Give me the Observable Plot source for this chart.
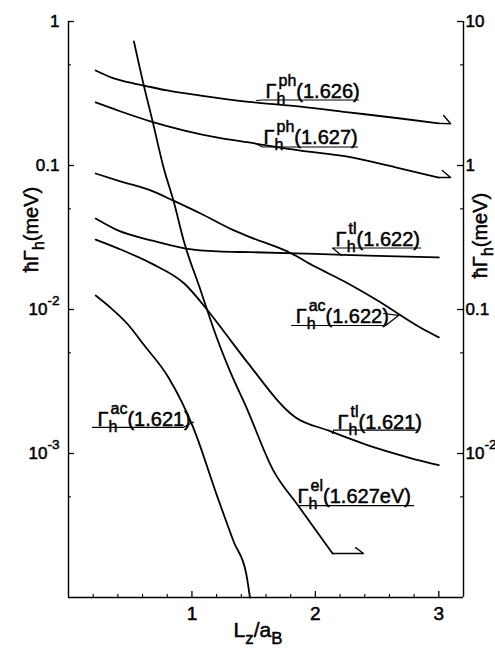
<!DOCTYPE html>
<html><head><meta charset="utf-8">
<script src="https://cdn.jsdelivr.net/npm/d3@7"></script>
<script src="https://cdn.jsdelivr.net/npm/@observablehq/plot@0.6"></script>
<style>
html,body{margin:0;padding:0;background:#fff}
#chart svg{display:block}
</style>
</head><body><div id="chart"></div>
<script>
// ---------------- data ----------------
const ph1626X = [0.22, 0.35, 0.53, 0.61, 0.80, 1.07, 1.46, 1.88, 2.25, 2.69, 3.0];
const ph1626Y = [0.457, 0.408, 0.371, 0.359, 0.332, 0.306, 0.277, 0.256, 0.235, 0.212, 0.196];

const ph1627X = [0.22, 0.40, 0.67, 0.94, 1.21, 1.46, 1.88, 2.25, 2.65, 3.0];
const ph1627Y = [0.274, 0.241, 0.202, 0.175, 0.156, 0.1445, 0.127, 0.1155, 0.097, 0.0825];

const ac1622X = [0.22, 0.40, 0.67, 0.85, 1.07, 1.34, 1.48, 1.79, 2.0, 2.22, 2.5, 2.85, 3.0];
const ac1622Y = [0.088, 0.0786, 0.067, 0.057, 0.0464, 0.0354, 0.0316, 0.0249, 0.0198, 0.0159, 0.0116, 0.0075, 0.0064];

const tl1622X = [0.22, 0.40, 0.67, 0.94, 1.21, 1.48, 2.0, 2.5, 3.0];
const tl1622Y = [0.0428, 0.0354, 0.0302, 0.0266, 0.0253, 0.0250, 0.0243, 0.0236, 0.0230];

const tl1621X = [0.22, 0.40, 0.67, 0.94, 1.13, 1.25, 1.44, 1.84, 2.11, 2.51, 2.77, 3.0];
const tl1621Y = [0.0306, 0.0266, 0.0209, 0.0151, 0.0098, 0.0072, 0.0044, 0.00178, 0.00144, 0.00108, 0.00093, 0.00083];

const ac1621X = [0.22, 0.34, 0.48, 0.61, 0.81, 1.01, 1.21, 1.34, 1.44, 1.47];
const ac1621Y = [0.0125, 0.0103, 0.0079, 0.00569, 0.00337, 0.00152, 0.00049, 0.000242, 0.000146, 0.0001];

const el1627X = [0.53, 0.61, 0.68, 0.77, 0.85, 0.94, 1.07, 1.13, 1.18, 1.31, 1.44, 1.66, 1.86, 2.14];
const el1627Y = [0.727, 0.36, 0.205, 0.0969, 0.0571, 0.0287, 0.0136, 0.00953, 0.00715, 0.0037, 0.0021, 0.00076, 0.000435, 0.000202];

// curve labels (text start / baseline, data units)
const labelText = ["Γ_{h}^{ph}(1.626)", "Γ_{h}^{ph}(1.627)", "Γ_{h}^{tl}(1.622)", "Γ_{h}^{ac}(1.622)", "Γ_{h}^{ac}(1.621)", "Γ_{h}^{tl}(1.621)", "Γ_{h}^{el}(1.627eV)"];
const labelX = [1.596, 1.580, 2.164, 1.840, 0.235, 2.180, 1.856];
const labelY = [0.2966, 0.140, 0.0278, 0.0080, 0.00156, 0.00149, 0.00045];

// label underlines / leaders to the curves (data units)
const leaders = [
  [[1.523, 0.2828], [1.572, 0.285], [2.350, 0.285]],
  [[1.515, 0.1424], [1.572, 0.1344], [2.342, 0.1344]],
  [[2.212, 0.0237], [2.139, 0.02674], [2.853, 0.02674]],
  [[1.807, 0.00774], [2.569, 0.00774], [2.674, 0.00909], [2.553, 0.00938]],
  [[0.194, 0.00152], [0.932, 0.00152], [1.013, 0.001655]],
  [[2.139, 0.001377], [2.147, 0.001455], [2.828, 0.001455]],
  [[1.872, 0.000435], [2.796, 0.000435]]
];
// continuation arrows at curve ends (data units)
const arrows = [
  [[3.0, 0.196], [3.096, 0.195], [3.039, 0.2225]],
  [[3.0, 0.0825], [3.096, 0.0826], [3.028, 0.0923]],
  [[2.14, 0.000202], [2.39, 0.000202], [2.326, 0.000222]]
];

// axes
const xDomain = [0, 3.2];
const yDomain = [1e-4, 1];
const xMajor = [1, 2, 3];
const xMajorLabels = ["1", "2", "3"];
const xMinor = [0.2, 0.4, 0.6, 0.8, 1.2, 1.4, 1.6, 1.8, 2.2, 2.4, 2.6, 2.8];
const yMajor = [1, 0.1, 0.01, 0.001];
const yMinor = [0.5, 0.05, 0.005, 0.0005];
const yLeftLabels = ["1", "0.1", "10^{-2}", "10^{-3}"];
const yRightLabels = ["10", "1", "0.1", "10^{-2}"];
const yTitle = "ħΓ_{h}(meV)";
const xTitle = "L_{z}/a_{B}";

// ---------------- build ----------------
const W = 495, H = 650, ML = 68, MR = 32, MT = 21, MB = 53;
const FW = W - ML - MR, FH = H - MT - MB;
const FONT = "'Liberation Sans', Arial, Helvetica, sans-serif";

const series = [
  ["ph1626", ph1626X, ph1626Y], ["ph1627", ph1627X, ph1627Y],
  ["ac1622", ac1622X, ac1622Y], ["tl1622", tl1622X, tl1622Y],
  ["tl1621", tl1621X, tl1621Y], ["ac1621", ac1621X, ac1621Y],
  ["el1627", el1627X, el1627Y]
];
const curveRows = series.flatMap(([name, xs, ys]) => xs.map((x, i) => ({series: name, x, y: ys[i]})));
const leaderRows = leaders.flatMap((pts, k) => pts.map(([x, y]) => ({id: k, x, y})));
const arrowRows = arrows.flatMap((pts, k) => pts.map(([x, y]) => ({id: k, x, y})));
const labelIdx = labelText.map((_, i) => i);

const txt = {stroke: "black", strokeWidth: 0.5, fill: "black"};

const plot = Plot.plot({
  width: W, height: H,
  marginLeft: ML, marginRight: MR, marginTop: MT, marginBottom: MB,
  x: {domain: xDomain, axis: null},
  y: {type: "log", domain: yDomain, axis: null},
  style: {fontFamily: FONT, background: "white", color: "black", overflow: "visible"},
  marks: [
    // frame (left, right, bottom)
    Plot.ruleX([xDomain[0], xDomain[1]], {stroke: "black", strokeWidth: 1.4}),
    Plot.ruleY([yDomain[0]], {stroke: "black", strokeWidth: 1.4}),
    // inward ticks
    Plot.tickY(yMajor, {y: d => d, insetRight: FW - 6, strokeWidth: 1.3}),
    Plot.tickY(yMinor, {y: d => d, insetRight: FW - 3, strokeWidth: 1.1}),
    Plot.tickY(yMajor, {y: d => d, insetLeft: FW - 6, strokeWidth: 1.3}),
    Plot.tickY(yMinor, {y: d => d, insetLeft: FW - 3, strokeWidth: 1.1}),
    Plot.tickX(xMajor, {x: d => d, insetTop: FH - 6, strokeWidth: 1.3}),
    Plot.tickX(xMinor, {x: d => d, insetTop: FH - 3, strokeWidth: 1.1}),
    // tick labels
    Plot.text(yMajor, {x: xDomain[0], y: d => d, text: (d, i) => yLeftLabels[i], textAnchor: "end", dx: -9, fontSize: 17, ...txt}),
    Plot.text(yMajor, {x: xDomain[1], y: d => d, text: (d, i) => yRightLabels[i], textAnchor: "start", dx: 2, fontSize: 17, ...txt}),
    Plot.text(xMajor, {x: d => d, y: yDomain[0], text: (d, i) => xMajorLabels[i], dy: 16, fontSize: 19, ...txt}),
    // axis titles
    Plot.text([yTitle], {frameAnchor: "left", textAnchor: "middle", lineAnchor: "middle", rotate: -90, dx: -37, dy: -80, fontSize: 20, ...txt}),
    Plot.text([yTitle], {frameAnchor: "right", textAnchor: "middle", lineAnchor: "middle", rotate: -90, dx: 17, dy: -74, fontSize: 20, ...txt}),
    Plot.text([xTitle], {frameAnchor: "bottom", textAnchor: "middle", lineAnchor: "middle", dx: -8, dy: 33, fontSize: 21, ...txt}),
    // curves
    Plot.line(curveRows, {x: "x", y: "y", z: "series", curve: "monotone-x", stroke: "black", strokeWidth: 1.8}),
    // leaders and arrows
    Plot.line(leaderRows, {x: "x", y: "y", z: "id", stroke: "black", strokeWidth: 1.2}),
    Plot.line(arrowRows, {x: "x", y: "y", z: "id", stroke: "black", strokeWidth: 1.4}),
    // curve labels
    Plot.text(labelIdx, {x: i => labelX[i], y: i => labelY[i], text: i => labelText[i], textAnchor: "start", lineAnchor: "bottom", fontSize: 20, ...txt})
  ]
});

document.getElementById("chart").appendChild(plot);

// turn _{..} and ^{..} markup into real sub/superscript tspans
function richify(svg) {
  const NS = "http://www.w3.org/2000/svg";
  svg.querySelectorAll("text").forEach(t => {
    const s = t.textContent;
    if (!/[_^]\{/.test(s)) return;
    const fs = parseFloat(getComputedStyle(t).fontSize) || 16;
    const parts = s.split(/([_^]\{[^}]*\})/).filter(p => p !== "");
    while (t.firstChild) t.removeChild(t.firstChild);
    let cur = 0, subW = 0, lastKind = "plain", supW = 0;
    parts.forEach(p => {
      const ts = document.createElementNS(NS, "tspan");
      let kind = "plain", str = p, target = 0;
      if (p.startsWith("_{")) { kind = "sub"; str = p.slice(2, -1); target = 0.3 * fs; }
      else if (p.startsWith("^{")) { kind = "sup"; str = p.slice(2, -1); target = -0.6 * fs; }
      ts.textContent = str;
      if (kind !== "plain") ts.setAttribute("font-size", (0.8 * fs).toFixed(1));
      const d = target - cur;
      if (Math.abs(d) > 1e-6) ts.setAttribute("dy", d.toFixed(2));
      cur = target;
      let dx = 0;
      if (kind === "sup" && lastKind === "sub") dx = -subW + 2;
      if (kind === "plain" && lastKind === "sup" && subW > supW + 2) dx = subW - supW - 2;
      if (dx) ts.setAttribute("dx", dx.toFixed(2));
      t.appendChild(ts);
      const w = ts.getComputedTextLength();
      if (kind === "sub") subW = w;
      else if (kind === "sup") supW = w;
      else { subW = 0; supW = 0; }
      lastKind = kind;
    });
  });
}
richify(plot);
</script>
</body></html>
